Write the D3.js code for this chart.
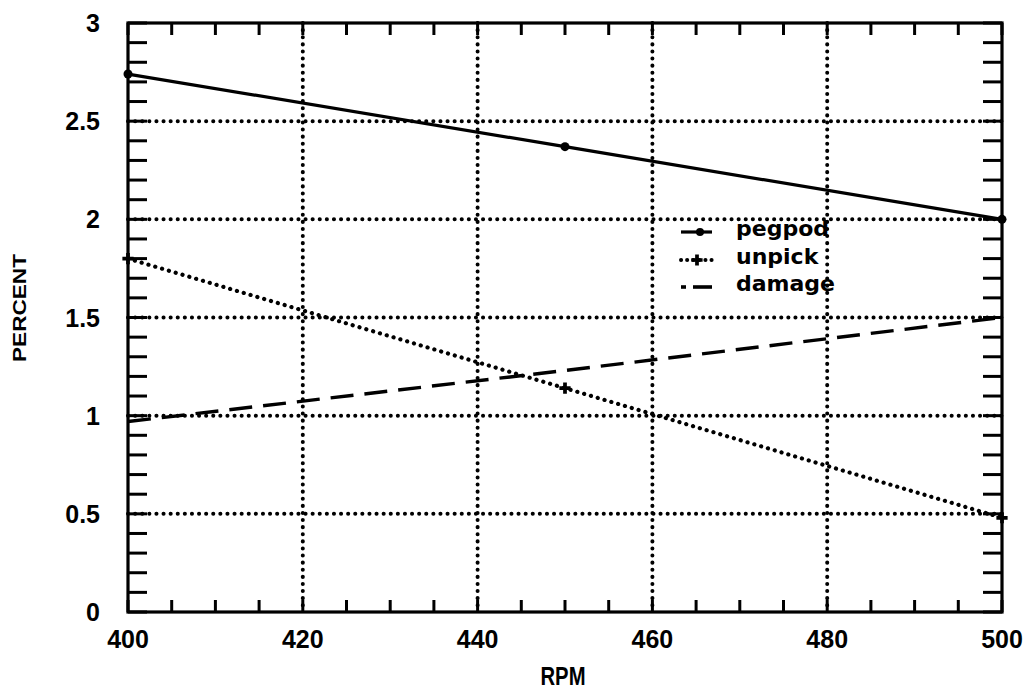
<!DOCTYPE html>
<html>
<head>
<meta charset="utf-8">
<script src="https://cdn.jsdelivr.net/npm/d3@7"></script>
<style>
  body { margin: 0; background: #fff; }
  svg { display: block; }
</style>
</head>
<body>
<svg id="chart" width="1031" height="692"></svg>
<script>
// data
const rpm = [400, 450, 500];
const pegpod = [2.74, 2.37, 2.0];
const unpick = [1.8, 1.14, 0.48];
const damage = [0.97, 1.23, 1.5];
const xTicks = [400, 420, 440, 460, 480, 500];
const yTicks = [0, 0.5, 1, 1.5, 2, 2.5, 3];
const yTickLabels = ['0', '0.5', '1', '1.5', '2', '2.5', '3'];

const svg = d3.select('#chart');
const pLeft = 128, pRight = 1002, pTop = 23, pBottom = 612;

const x = d3.scaleLinear().domain([400, 500]).range([pLeft, pRight]);
const y = d3.scaleLinear().domain([0, 3]).range([pBottom, pTop]);

const ink = '#000';

// dotted grid
const dots = '0.1,7';
svg.append('g').selectAll('line')
    .data(xTicks.filter(d => d > 400 && d < 500))
    .join('line')
    .attr('x1', d => x(d)).attr('x2', d => x(d))
    .attr('y1', pTop).attr('y2', pBottom)
    .attr('stroke', ink).attr('stroke-width', 4)
    .attr('stroke-linecap', 'round').attr('stroke-dasharray', dots);

svg.append('g').selectAll('line')
    .data(yTicks.filter(d => d > 0 && d < 3))
    .join('line')
    .attr('x1', pLeft).attr('x2', pRight)
    .attr('y1', d => y(d)).attr('y2', d => y(d))
    .attr('stroke', ink).attr('stroke-width', 4)
    .attr('stroke-linecap', 'round').attr('stroke-dasharray', dots);

// inward ticks, every 5 rpm and every 0.1 percent
const xMinor = d3.range(400, 501, 5);
const yMinor = d3.range(0, 31).map(i => i / 10);
const tk = svg.append('g').attr('stroke', ink).attr('stroke-width', 3);
xMinor.forEach(v => {
    tk.append('line').attr('x1', x(v)).attr('x2', x(v)).attr('y1', pBottom).attr('y2', pBottom - 12);
    tk.append('line').attr('x1', x(v)).attr('x2', x(v)).attr('y1', pTop).attr('y2', pTop + 12);
});
yMinor.forEach(v => {
    tk.append('line').attr('x1', pLeft).attr('x2', pLeft + 19).attr('y1', y(v)).attr('y2', y(v));
    tk.append('line').attr('x1', pRight).attr('x2', pRight - 19).attr('y1', y(v)).attr('y2', y(v));
});

// frame
svg.append('rect')
    .attr('x', pLeft).attr('y', pTop)
    .attr('width', pRight - pLeft).attr('height', pBottom - pTop)
    .attr('fill', 'none').attr('stroke', ink).attr('stroke-width', 3.2);

// tick labels
const lblFont = 'Liberation Sans, Arial, sans-serif';
svg.append('g').selectAll('text')
    .data(yTicks)
    .join('text')
    .attr('x', 100).attr('y', d => y(d))
    .attr('dy', '0.36em')
    .attr('text-anchor', 'end')
    .attr('font-family', lblFont).attr('font-weight', 'bold').attr('font-size', 25)
    .text((d, i) => yTickLabels[i]);

svg.append('g').selectAll('text')
    .data(xTicks)
    .join('text')
    .attr('x', d => x(d)).attr('y', 648)
    .attr('text-anchor', 'middle')
    .attr('font-family', lblFont).attr('font-weight', 'bold').attr('font-size', 25)
    .text(d => d);

// axis titles
svg.append('text')
    .attr('x', 563).attr('y', 685)
    .attr('text-anchor', 'middle')
    .attr('font-family', lblFont)
    .attr('font-weight', 'bold').attr('font-size', 25)
    .attr('textLength', 45).attr('lengthAdjust', 'spacingAndGlyphs')
    .text('RPM');

svg.append('text')
    .attr('transform', 'translate(26,308) rotate(-90)')
    .attr('text-anchor', 'middle')
    .attr('font-family', lblFont)
    .attr('font-weight', 'bold').attr('font-size', 18.5)
    .attr('textLength', 108).attr('lengthAdjust', 'spacingAndGlyphs')
    .text('PERCENT');

// series
const line = d3.line().x((d, i) => x(rpm[i])).y(d => y(d));

svg.append('path').datum(pegpod)
    .attr('d', line).attr('fill', 'none')
    .attr('stroke', ink).attr('stroke-width', 3.2);

svg.append('path').datum(unpick)
    .attr('d', line).attr('fill', 'none')
    .attr('stroke', ink).attr('stroke-width', 4.2)
    .attr('stroke-linecap', 'round').attr('stroke-dasharray', '0.1,7');

svg.append('path').datum(damage)
    .attr('d', line).attr('fill', 'none')
    .attr('stroke', ink).attr('stroke-width', 3.4)
    .attr('stroke-dasharray', '23,11');

// markers
svg.append('g').selectAll('circle')
    .data(pegpod)
    .join('circle')
    .attr('cx', (d, i) => x(rpm[i])).attr('cy', d => y(d))
    .attr('r', 4.5).attr('fill', ink);

const plus = d3.symbol().type(d3.symbolCross).size(70);
svg.append('g').selectAll('path')
    .data(unpick)
    .join('path')
    .attr('transform', (d, i) => `translate(${x(rpm[i])},${y(d)})`)
    .attr('d', plus).attr('fill', ink);

// legend
const legend = [
    { name: 'pegpod', ly: 232 },
    { name: 'unpick', ly: 260 },
    { name: 'damage', ly: 287 }
];
const lg = svg.append('g');
lg.append('line').attr('x1', 681).attr('x2', 712).attr('y1', legend[0].ly).attr('y2', legend[0].ly)
    .attr('stroke', ink).attr('stroke-width', 3.2);
lg.append('circle').attr('cx', 700).attr('cy', legend[0].ly).attr('r', 4).attr('fill', ink);
lg.append('line').attr('x1', 681).attr('x2', 712).attr('y1', legend[1].ly).attr('y2', legend[1].ly)
    .attr('stroke', ink).attr('stroke-width', 4)
    .attr('stroke-linecap', 'round').attr('stroke-dasharray', '0.1,6');
lg.append('path').attr('transform', `translate(697,${legend[1].ly})`).attr('d', plus).attr('fill', ink);
lg.append('line').attr('x1', 681).attr('x2', 686).attr('y1', legend[2].ly).attr('y2', legend[2].ly)
    .attr('stroke', ink).attr('stroke-width', 3.6);
lg.append('line').attr('x1', 693).attr('x2', 712).attr('y1', legend[2].ly).attr('y2', legend[2].ly)
    .attr('stroke', ink).attr('stroke-width', 3.6);

lg.selectAll('text')
    .data(legend)
    .join('text')
    .attr('x', 736).attr('y', d => d.ly + 4)
    .attr('font-family', 'DejaVu Sans, sans-serif').attr('font-size', 22)
    .attr('font-weight', 'bold')
    .text(d => d.name);
</script>
</body>
</html>
